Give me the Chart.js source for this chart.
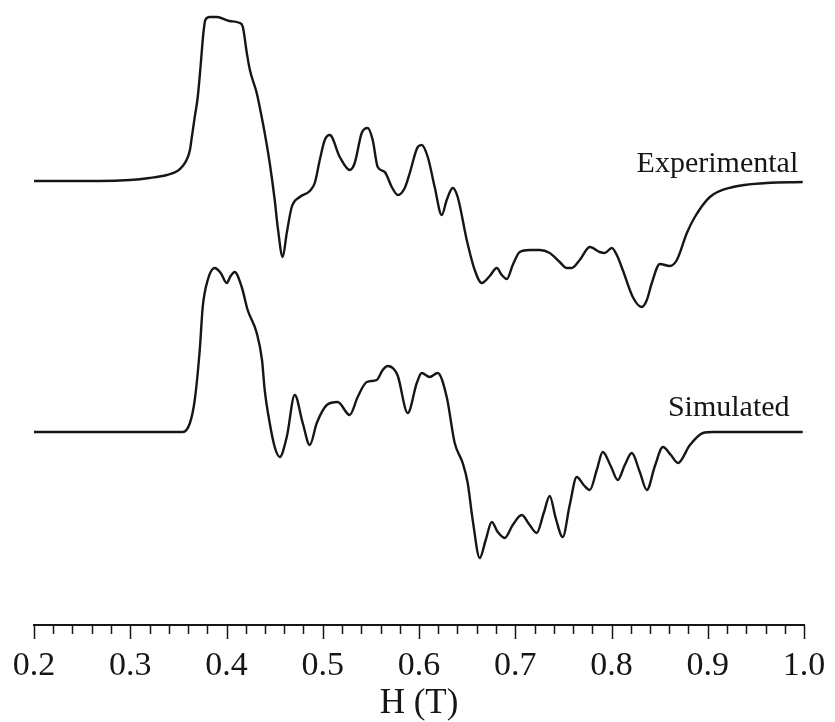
<!DOCTYPE html>
<html>
<head>
<meta charset="utf-8">
<script src="https://cdn.jsdelivr.net/npm/chart.js@4/dist/chart.umd.min.js"></script>
<style>
  html, body { margin: 0; padding: 0; background: #ffffff; }
  #wrap { width: 835px; height: 722px; position: relative; }
</style>
</head>
<body>
<div id="wrap"><canvas id="epr"></canvas></div>
<script>
// EPR derivative spectra, magnetic field H in tesla, signal in arbitrary units
const fieldExp = [0.200, 0.268, 0.2995, 0.320, 0.338, 0.349, 0.3545, 0.359, 0.362, 0.364, 0.367, 0.370, 0.373, 0.376, 0.378, 0.3825, 0.390, 0.403, 0.4138, 0.4170, 0.4211, 0.4243, 0.4314, 0.4345, 0.4397, 0.4449, 0.4501, 0.4532, 0.4584, 0.4626, 0.4678, 0.4761, 0.4865, 0.4917, 0.4969, 0.5021, 0.5073, 0.5177, 0.528, 0.5332, 0.5405, 0.5467, 0.5519, 0.5571, 0.5644, 0.5717, 0.578, 0.5852, 0.5904, 0.5987, 0.6028, 0.6091, 0.6163, 0.6236, 0.6288, 0.635, 0.6402, 0.6496, 0.6579, 0.6652, 0.6735, 0.6808, 0.686, 0.6912, 0.6974, 0.7047, 0.715, 0.7254, 0.7358, 0.7462, 0.7534, 0.7587, 0.767, 0.7774, 0.7878, 0.793, 0.8003, 0.8055, 0.8117, 0.8221, 0.8315, 0.8367, 0.8419, 0.8502, 0.8606, 0.8679, 0.8783, 0.8866, 0.9022, 0.9261, 0.961, 0.9987];
const signalExp = [0, 0, 0.01, 0.03, 0.06, 0.10, 0.15, 0.22, 0.31, 0.44, 0.64, 0.83, 1.14, 1.48, 1.61, 1.64, 1.64, 1.60, 1.58, 1.54, 1.28, 1.11, 0.88, 0.74, 0.48, 0.18, -0.19, -0.46, -0.76, -0.52, -0.26, -0.16, -0.10, -0.02, 0.21, 0.41, 0.46, 0.24, 0.11, 0.18, 0.48, 0.53, 0.41, 0.14, 0.09, -0.06, -0.14, -0.07, 0.08, 0.34, 0.36, 0.24, -0.06, -0.34, -0.19, -0.07, -0.16, -0.59, -0.89, -1.02, -0.95, -0.87, -0.94, -0.98, -0.84, -0.71, -0.69, -0.69, -0.72, -0.81, -0.87, -0.87, -0.79, -0.66, -0.71, -0.72, -0.67, -0.74, -0.89, -1.16, -1.26, -1.19, -1.02, -0.83, -0.85, -0.79, -0.52, -0.36, -0.16, -0.06, -0.02, -0.01];

const fieldSim = [0.200, 0.3545, 0.362, 0.367, 0.3722, 0.3753, 0.3805, 0.3877, 0.394, 0.4002, 0.4043, 0.4085, 0.4158, 0.422, 0.4314, 0.4369, 0.4397, 0.4449, 0.4501, 0.4553, 0.4626, 0.4709, 0.4792, 0.4865, 0.4938, 0.5042, 0.5155, 0.528, 0.5363, 0.5457, 0.5561, 0.5623, 0.5675, 0.5738, 0.578, 0.5883, 0.5977, 0.6028, 0.6111, 0.6194, 0.6288, 0.6371, 0.6454, 0.6506, 0.6558, 0.6631, 0.6693, 0.6756, 0.6818, 0.689, 0.6974, 0.7067, 0.715, 0.7223, 0.7296, 0.7358, 0.742, 0.7493, 0.7566, 0.7639, 0.7711, 0.7774, 0.7847, 0.7909, 0.7992, 0.8065, 0.8138, 0.8211, 0.8294, 0.8367, 0.8451, 0.8534, 0.8617, 0.869, 0.8815, 0.895, 0.9054, 0.9987];
const signalSim = [0, 0, 0.09, 0.32, 0.82, 1.25, 1.52, 1.64, 1.59, 1.49, 1.56, 1.60, 1.45, 1.22, 0.99, 0.72, 0.42, 0.09, -0.15, -0.25, -0.05, 0.37, 0.09, -0.13, 0.09, 0.27, 0.30, 0.17, 0.35, 0.50, 0.52, 0.62, 0.66, 0.63, 0.56, 0.19, 0.49, 0.59, 0.55, 0.59, 0.35, -0.11, -0.31, -0.51, -0.88, -1.26, -1.08, -0.90, -1.00, -1.06, -0.93, -0.83, -0.93, -1.01, -0.81, -0.64, -0.86, -1.05, -0.73, -0.45, -0.53, -0.58, -0.38, -0.20, -0.34, -0.48, -0.33, -0.21, -0.40, -0.58, -0.34, -0.15, -0.23, -0.31, -0.13, -0.01, 0, 0];

const seriesNames = ['Experimental', 'Simulated'];

// axis ticks every 0.02 T, labelled every 0.1 T
const tickValues = [0.20, 0.22, 0.24, 0.26, 0.28, 0.30, 0.32, 0.34, 0.36, 0.38, 0.40, 0.42, 0.44, 0.46, 0.48, 0.50, 0.52, 0.54, 0.56, 0.58, 0.60, 0.62, 0.64, 0.66, 0.68, 0.70, 0.72, 0.74, 0.76, 0.78, 0.80, 0.82, 0.84, 0.86, 0.88, 0.90, 0.92, 0.94, 0.96, 0.98, 1.00];
const tickLabels = ['0.2', '', '', '', '', '0.3', '', '', '', '', '0.4', '', '', '', '', '0.5', '', '', '', '', '0.6', '', '', '', '', '0.7', '', '', '', '', '0.8', '', '', '', '', '0.9', '', '', '', '', '1.0'];
const axisTitle = 'H (T)';

// vertical stacking of the two traces
const traceOffset = [4.44, 1.93];
const INK = '#161616';
const SERIF = "'Liberation Serif', 'Times New Roman', serif";

function toPoints(xs, ys, off) {
  return xs.map((x, i) => ({ x: x, y: ys[i] + off }));
}

// trace names written next to each curve, in data coordinates
const traceLabels = [
  { text: seriesNames[0], x: 0.994, y: traceOffset[0] + 0.09 },
  { text: seriesNames[1], x: 0.985, y: traceOffset[1] + 0.16 }
];

const decorations = {
  id: 'decorations',
  afterDraw(chart) {
    const { ctx } = chart;
    const xs = chart.scales.x, ys = chart.scales.y;
    ctx.save();
    // tick marks: long at labelled positions, short in between
    ctx.strokeStyle = INK;
    ctx.lineWidth = 1.5;
    const y0 = xs.top;
    tickValues.forEach((v, i) => {
      const px = Math.round(xs.getPixelForValue(v)) + 0.5;
      const len = tickLabels[i] ? 14 : 9;
      ctx.beginPath();
      ctx.moveTo(px, y0);
      ctx.lineTo(px, y0 + len);
      ctx.stroke();
    });
    // trace names
    ctx.fillStyle = INK;
    ctx.font = '30px ' + SERIF;
    ctx.textAlign = 'right';
    ctx.textBaseline = 'alphabetic';
    traceLabels.forEach(l => {
      ctx.fillText(l.text, xs.getPixelForValue(l.x), ys.getPixelForValue(l.y));
    });
    ctx.restore();
  }
};

new Chart(document.getElementById('epr'), {
  type: 'line',
  data: {
    datasets: [
      {
        label: seriesNames[0],
        data: toPoints(fieldExp, signalExp, traceOffset[0]),
        borderColor: INK,
        borderWidth: 2.4,
        pointRadius: 0,
        cubicInterpolationMode: 'monotone',
        fill: false
      },
      {
        label: seriesNames[1],
        data: toPoints(fieldSim, signalSim, traceOffset[1]),
        borderColor: INK,
        borderWidth: 2.4,
        pointRadius: 0,
        cubicInterpolationMode: 'monotone',
        fill: false
      }
    ]
  },
  options: {
    responsive: true,
    maintainAspectRatio: false,
    animation: false,
    events: [],
    layout: { padding: { left: 34, right: 31, top: 0, bottom: 0 } },
    plugins: {
      legend: { display: false },
      tooltip: { enabled: false },
      title: { display: false }
    },
    scales: {
      x: {
        type: 'linear',
        position: 'bottom',
        min: 0.2,
        max: 1.0,
        afterBuildTicks(scale) {
          scale.ticks = tickValues.map(v => ({ value: v }));
        },
        afterFit(scale) {
          scale.height = 97;
        },
        grid: { display: false, drawTicks: false },
        border: { display: true, color: INK, width: 2 },
        ticks: {
          autoSkip: false,
          maxRotation: 0,
          padding: 0,
          color: INK,
          font: { family: SERIF, size: 34, lineHeight: 2.44 },
          callback: (v, i) => tickLabels[i]
        },
        title: {
          display: true,
          text: axisTitle,
          color: INK,
          font: { family: SERIF, size: 35, lineHeight: 1.03 },
          padding: 0
        }
      },
      y: {
        type: 'linear',
        display: false,
        min: 0,
        max: 6.25
      }
    }
  },
  plugins: [decorations]
});
</script>
</body>
</html>
